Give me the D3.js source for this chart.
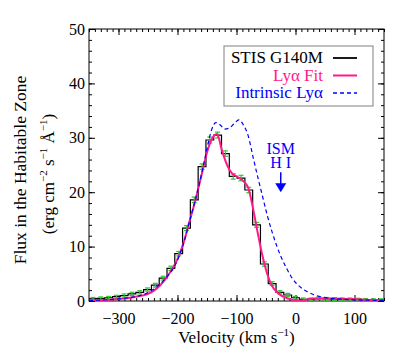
<!DOCTYPE html>
<html>
<head>
<meta charset="utf-8">
<script src="https://cdn.jsdelivr.net/npm/d3@7"></script>
<style>
body { margin: 0; background: #fff; }
svg text { font-family: "Liberation Serif", "Times New Roman", Times, "DejaVu Serif", serif; }
</style>
</head>
<body>
<div id="chart"></div>
<script>
// STIS G140M histogram (bin centres, km/s) and flux
const binCenters = [-343.2, -330, -316.8, -303.6, -290.4, -277.2, -264, -250.8, -237.6, -224.4,
  -211.2, -198, -184.8, -171.6, -158.4, -145.2, -132, -118.8, -105.6, -92.4,
  -79.2, -66, -52.8, -39.6, -26.4, -13.2, 0, 13.2, 26.4, 39.6,
  52.8, 66, 79.2, 92.4, 105.6, 118.8, 132, 145.2]
const fluxObs = [0.4, 0.5, 0.6, 0.8, 1.0, 1.3, 1.6, 2.1, 2.9, 4.2,
  6.0, 8.7, 13.4, 18.6, 24.7, 29.6, 30.5, 27.1, 22.9, 22.6,
  20.4, 14.0, 6.8, 3.2, 1.6, 1.1, 0.6, 0.3, 0.3, 0.5,
  0.4, 0.35, 0.3, 0.3, 0.25, 0.2, 0.15, 0.15]
const fluxErr = [0.25, 0.25, 0.25, 0.25, 0.3, 0.3, 0.3, 0.3, 0.35, 0.35,
  0.4, 0.4, 0.45, 0.5, 0.5, 0.55, 0.55, 0.5, 0.5, 0.5,
  0.5, 0.45, 0.4, 0.35, 0.3, 0.3, 0.25, 0.25, 0.25, 0.25,
  0.25, 0.25, 0.25, 0.25, 0.25, 0.25, 0.25, 0.25]
const binWidth = 13.2

// Ly-alpha fit
const fitVel = [-350, -320, -300, -280, -260, -250, -240, -230, -220, -210, -200, -190, -180, -170, -160,
  -150, -143, -133, -125, -116, -108, -98, -88, -80, -72, -64, -56, -48, -40, -32, -24, -16, -8,
  0, 8, 16, 28, 45, 65, 85, 105, 125, 150]
const fitFlux = [0.1, 0.2, 0.35, 0.6, 1.0, 1.3, 1.9, 2.8, 4.1, 5.7, 7.7, 10.6, 14.5, 18.4, 22.8,
  27.3, 29.5, 30.7, 27.8, 25.0, 23.5, 22.8, 22.0, 20.8, 17.0, 12.5, 8.3, 5.0, 2.8, 1.7, 1.0, 0.6, 0.3,
  0.12, 0.08, 0.2, 0.4, 0.48, 0.45, 0.38, 0.3, 0.2, 0.12]

// intrinsic Ly-alpha profile
const intVel = [-350, -300, -260, -240, -220, -200, -190, -180, -170, -160, -150, -143, -135, -128,
  -120, -112, -104, -96, -88, -80, -72, -64, -56, -48, -40, -32, -24, -16, -8,
  0, 10, 20, 30, 40, 55, 75, 100, 125, 150]
const intFlux = [0.1, 0.4, 1.1, 2.2, 4.2, 7.5, 10.5, 14.5, 18.5, 23.0, 28.0, 31.2, 32.8, 32.4,
  31.6, 31.8, 32.6, 33.3, 32.3, 30.3, 26.5, 22.8, 19.3, 15.8, 12.8, 10.2, 8.0, 6.2, 4.6,
  3.4, 2.4, 1.7, 1.2, 0.85, 0.55, 0.37, 0.22, 0.15, 0.1]

const xTicks = [-300, -200, -100, 0, 100]
const yTicks = [0, 10, 20, 30, 40, 50]
const legendLabels = ["STIS G140M", "Ly\u03b1 Fit", "Intrinsic Ly\u03b1"]
const ismVel = -25, ismFlux = 20

const serif = "'Liberation Serif', 'Times New Roman', Times, 'DejaVu Serif', serif"

let width = 411, height = 360
let margin = {top: 29, right: 27, bottom: 59, left: 89}
let w = width - margin.left - margin.right
let h = height - margin.top - margin.bottom

let svg = d3.select("#chart").append("svg")
    .attr("width", width)
    .attr("height", height)
    .style("font-family", serif)

svg.append("rect").attr("width", width).attr("height", height).attr("fill", "#fff")

let xScale = d3.scaleLinear().domain([-350, 150]).range([0, w])
let yScale = d3.scaleLinear().domain([0, 50]).range([h, 0])

let plot = svg.append("g").attr("transform", "translate(" + margin.left + "," + margin.top + ")")

plot.append("clipPath").attr("id", "clip")
    .append("rect").attr("width", w).attr("height", h)

// axes: major + minor ticks on all four sides, pointing inward
function styleAxis(g) {
    g.attr("font-family", serif).attr("font-size", 16)
    g.select(".domain").remove()
    g.selectAll("line").attr("stroke", "#000")
    g.selectAll("text").attr("fill", "#000")
}

plot.append("g").attr("transform", "translate(0," + h + ")")
    .call(d3.axisBottom(xScale).tickValues(xTicks).tickSize(-6).tickPadding(12))
    .call(styleAxis)
plot.append("g").attr("transform", "translate(0," + h + ")")
    .call(d3.axisBottom(xScale).ticks(50).tickSize(-3).tickFormat(""))
    .call(styleAxis)
plot.append("g")
    .call(d3.axisTop(xScale).tickValues(xTicks).tickSize(-6).tickFormat(""))
    .call(styleAxis)
plot.append("g")
    .call(d3.axisTop(xScale).ticks(50).tickSize(-3).tickFormat(""))
    .call(styleAxis)
plot.append("g")
    .call(d3.axisLeft(yScale).tickValues(yTicks).tickSize(-6).tickPadding(4))
    .call(styleAxis)
plot.append("g")
    .call(d3.axisLeft(yScale).ticks(25).tickSize(-3).tickFormat(""))
    .call(styleAxis)
plot.append("g").attr("transform", "translate(" + w + ",0)")
    .call(d3.axisRight(yScale).tickValues(yTicks).tickSize(-6).tickFormat(""))
    .call(styleAxis)
plot.append("g").attr("transform", "translate(" + w + ",0)")
    .call(d3.axisRight(yScale).ticks(25).tickSize(-3).tickFormat(""))
    .call(styleAxis)

plot.append("rect")
    .attr("width", w).attr("height", h)
    .attr("fill", "none").attr("stroke", "#000").attr("stroke-width", 1)

let data = plot.append("g").attr("clip-path", "url(#clip)")

// histogram
let steps = binCenters.map((c, i) => [c - binWidth / 2, fluxObs[i]])
steps.push([binCenters[binCenters.length - 1] + binWidth / 2, fluxObs[fluxObs.length - 1]])
data.append("path")
    .attr("d", d3.line().curve(d3.curveStepAfter)
        .x(d => xScale(d[0])).y(d => yScale(d[1]))(steps))
    .attr("fill", "none").attr("stroke", "#000").attr("stroke-width", 1.2)

// error bars
let eb = data.append("g").attr("stroke", "#2ec82e").attr("stroke-width", 1.2)
binCenters.forEach((c, i) => {
    let cx = xScale(c)
    let y0 = yScale(fluxObs[i] - fluxErr[i]), y1 = yScale(fluxObs[i] + fluxErr[i])
    eb.append("line").attr("x1", cx).attr("x2", cx).attr("y1", y0).attr("y2", y1)
    eb.append("line").attr("x1", cx - 2.5).attr("x2", cx + 2.5).attr("y1", y0).attr("y2", y0)
    eb.append("line").attr("x1", cx - 2.5).attr("x2", cx + 2.5).attr("y1", y1).attr("y2", y1)
})

let line = d3.line().curve(d3.curveMonotoneX).x(d => xScale(d[0])).y(d => yScale(d[1]))

data.append("path")
    .attr("d", line(fitVel.map((v, i) => [v, fitFlux[i]])))
    .attr("fill", "none").attr("stroke", "#ff1a8c").attr("stroke-width", 2)

data.append("path")
    .attr("d", line(intVel.map((v, i) => [v, intFlux[i]])))
    .attr("fill", "none").attr("stroke", "#0000ff").attr("stroke-width", 1.2)
    .attr("stroke-dasharray", "4,3")

// ISM H I annotation
let ax = xScale(ismVel), ay = yScale(ismFlux)
let ism = plot.append("text").attr("text-anchor", "middle")
    .attr("fill", "#0000ff").style("font-size", "16px")
ism.append("tspan").attr("x", ax).attr("y", ay - 38).text("ISM")
ism.append("tspan").attr("x", ax).attr("y", ay - 24).text("H I")
plot.append("line").attr("x1", ax).attr("x2", ax).attr("y1", ay - 20).attr("y2", ay - 8)
    .attr("stroke", "#0000ff").attr("stroke-width", 1.5)
plot.append("path")
    .attr("d", "M" + (ax - 5.5) + "," + (ay - 9) + "L" + (ax + 5.5) + "," + (ay - 9) + "L" + ax + "," + ay + "Z")
    .attr("fill", "#0000ff")

// legend
let leg = svg.append("g")
leg.append("rect").attr("x", 224).attr("y", 46).attr("width", 149).attr("height", 60)
    .attr("fill", "#fff").attr("stroke", "#808080").attr("stroke-width", 1)
let legColors = ["#000", "#ff1a8c", "#0000ff"]
let legDash = [null, null, "4,3"]
let legWidth = [1.8, 2, 1.5]
legendLabels.forEach((lab, i) => {
    let yy = 63 + i * 17.5
    leg.append("text").attr("x", 323).attr("y", yy).attr("text-anchor", "end")
        .attr("fill", legColors[i]).style("font-size", "17px").text(lab)
    leg.append("line").attr("x1", 333).attr("x2", 357).attr("y1", yy - 5).attr("y2", yy - 5)
        .attr("stroke", legColors[i]).attr("stroke-width", legWidth[i])
        .attr("stroke-dasharray", legDash[i])
})

// axis titles
let xt = svg.append("text").attr("x", margin.left + w / 2).attr("y", 343)
    .attr("text-anchor", "middle").style("font-size", "17px")
xt.append("tspan").text("Velocity (km s")
xt.append("tspan").attr("dy", -7).style("font-size", "11px").text("\u22121")
xt.append("tspan").attr("dy", 7).text(")")

svg.append("text").attr("transform", "translate(26,170) rotate(-90)")
    .attr("text-anchor", "middle").style("font-size", "17.5px")
    .text("Flux in the Habitable Zone")

let yt = svg.append("text").attr("transform", "translate(54,174) rotate(-90)")
    .attr("text-anchor", "middle").style("font-size", "17px")
yt.append("tspan").text("(erg cm")
yt.append("tspan").attr("dy", -7).style("font-size", "11px").text("\u22122")
yt.append("tspan").attr("dy", 7).text(" s")
yt.append("tspan").attr("dy", -7).style("font-size", "11px").text("\u22121")
yt.append("tspan").attr("dy", 7).text(" \u00c5")
yt.append("tspan").attr("dy", -7).style("font-size", "11px").text("\u22121")
yt.append("tspan").attr("dy", 7).text(")")
</script>
</body>
</html>
